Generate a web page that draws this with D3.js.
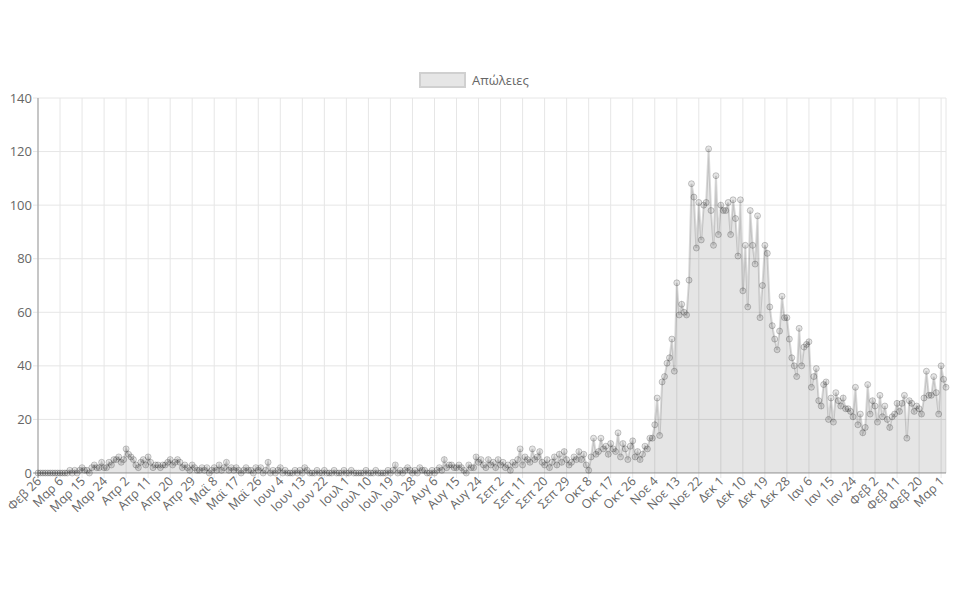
<!DOCTYPE html>
<html><head><meta charset="utf-8">
<script src="https://cdn.jsdelivr.net/npm/d3@7"></script>
<style>body{margin:0;background:#fff;font-family:"Open Sans",Arial,sans-serif}</style>
</head><body><svg id="c" width="960" height="601"></svg>
<script>
const startDate = "2020-02-26";
const monthNames = ["Ιαν","Φεβ","Μαρ","Απρ","Μαϊ","Ιουν","Ιουλ","Αυγ","Σεπ","Οκτ","Νοε","Δεκ"];
const deathsEarly = [
0,0,0,0,0,0,0,0,0, 0,0,0,0,1,0,1,0,1, 2,1,1,0,2,3,2,2,4, 2,2,4,3,5,5,6,4,5,
9,7,6,5,3,2,4,5,3, 6,4,2,3,3,2,3,3,4, 5,3,4,5,4,2,3,2,1, 3,2,1,1,2,1,2,0,1,
2,1,3,1,2,4,1,2,1, 2,1,0,1,2,1,1,0,2, 1,2,0,1,4,0,1,0,1, 2,0,1,0,0,0,1,0,1,
0,2,1,0,0,0,1,0,0, 1,0,0,0,1,0,0,0,1, 0,0,1,0,0,0,0,0,1, 0,0,0,1,0,0,0,0,1,
0,1,3,0,1,0,1,2,1, 0,1,0,2,1,1,0,0,1, 0,1,2,1,5,2,3,3,2, 2,3,2,1,0,3,2,2,6,
4,5,3,2,5,3,4,2,5, 3,4,2,3,1,4,3,5,9, 3,6,5,4,9,5,6,8,4, 3,5,2,4,6,3,7,4,8,
5,3,4,6,5,8,5,7,3, 1,6,13,7,8,13,9,10,7, 11,9,8,15,6,11,9,5,10, 12,6,8,5,7,10,9,13];
const deathsLate = [
13,18,28,14,34,36,41,43,50,38,71,59,63,60,59,72,108,103,84,101,87,100,101,121,98,85,111,89,100,98,
98,101,89,102,95,81,102,68,85,62,98,85,78,96,58,
70,85,82,62,55,50,46,53,66,58,58,50,43,40,36,54,40,47,48,49,32,36,39,27,25,33,34,20,28,19,
30,27,25,28,24,24,23,21,32,18,22,15,17,33,22,27,25,19,29,21,25,20,17,21,22,26,23,26,29,13,
27,26,23,25,24,22,28,38,29,29,36,30,22,40,35,32];
const yTicks = [0,20,40,60,80,100,120,140];
const seriesName = "Απώλειες";

const values = deathsEarly.concat(deathsLate);
const t0 = new Date(startDate+"T00:00:00");
const labels = values.map((v,i)=>{const d=new Date(t0);d.setDate(d.getDate()+i);return monthNames[d.getMonth()]+" "+d.getDate();});

const svg = d3.select("#c");
const L=38,R=946,T=98,B=473;
const x = d3.scaleLinear().domain([0,values.length-1]).range([L,R]);
const y = d3.scaleLinear().domain([0,140]).range([B,T]);

const g = svg.append("g");
// vertical grid
const tickIdx = d3.range(0,values.length,9);
g.selectAll(".vg").data(tickIdx).enter().append("line")
 .attr("x1",d=>x(d)).attr("x2",d=>x(d)).attr("y1",T).attr("y2",B+5)
 .attr("stroke","#e6e6e6");
g.append("line").attr("x1",R).attr("x2",R).attr("y1",T).attr("y2",B).attr("stroke","#e6e6e6");
g.selectAll(".hg").data(yTicks).enter().append("line")
 .attr("x1",L-5).attr("x2",R).attr("y1",d=>y(d)).attr("y2",d=>y(d))
 .attr("stroke",d=>d===0?"#999":"#e6e6e6");
g.append("line").attr("x1",L).attr("x2",L).attr("y1",T).attr("y2",B+5).attr("stroke","#999");
g.selectAll(".yl").data(yTicks).enter().append("text")
 .attr("x",L-6).attr("y",d=>y(d)+4.5).attr("text-anchor","end")
 .attr("font-size",13).attr("fill","#666").text(d=>d);
g.selectAll(".xl").data(tickIdx).enter().append("text")
 .attr("transform",d=>`translate(${x(d)+4},${B+9}) rotate(-45)`)
 .attr("text-anchor","end").attr("font-size",12.5).attr("fill","#666").text(d=>labels[d]);

const area = d3.area().x((d,i)=>x(i)).y0(B).y1(d=>y(d));
svg.append("path").datum(values).attr("d",area).attr("fill","rgba(0,0,0,0.1)");
const line = d3.line().x((d,i)=>x(i)).y(d=>y(d));
svg.append("path").datum(values).attr("d",line).attr("fill","none").attr("stroke","rgba(0,0,0,0.15)").attr("stroke-width",2);
svg.selectAll(".pt").data(values).enter().append("circle")
 .attr("cx",(d,i)=>x(i)).attr("cy",d=>y(d)).attr("r",3)
 .attr("fill","rgba(0,0,0,0.1)").attr("stroke","rgba(0,0,0,0.2)").attr("stroke-width",1);

// legend
svg.append("rect").attr("x",420).attr("y",73).attr("width",45).attr("height",14)
 .attr("fill","#e6e6e6").attr("stroke","#d0d0d0").attr("stroke-width",2);
svg.append("text").attr("x",472).attr("y",85).attr("font-size",13).attr("fill","#666").text(seriesName);
</script></body></html>
